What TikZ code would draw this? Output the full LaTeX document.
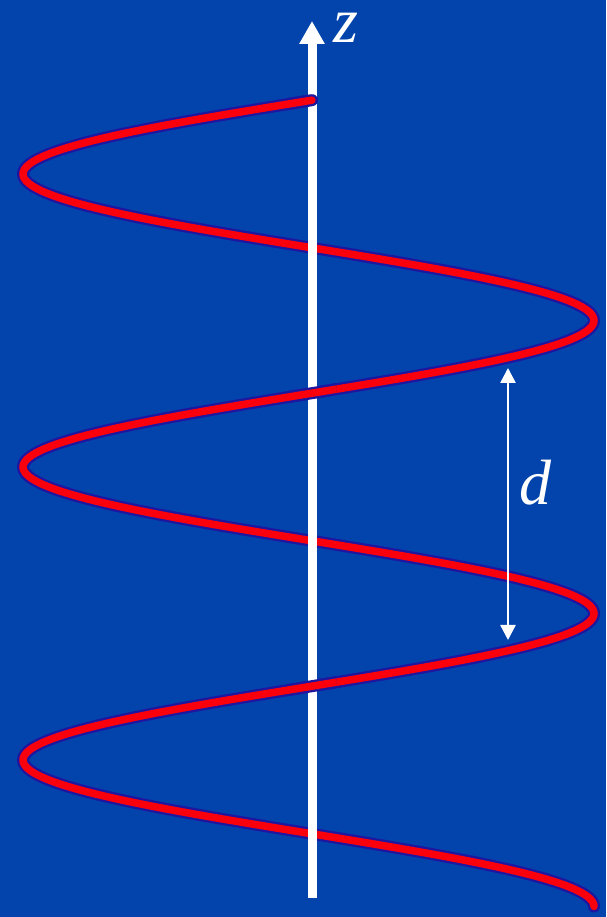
\documentclass[tikz,border=0pt]{standalone}
\usepackage{fontspec}
\setmainfont{Liberation Serif}
\usetikzlibrary{arrows.meta}
\definecolor{bgblue}{RGB}{2,68,172}
\definecolor{edgeblue}{RGB}{28,22,160}
\definecolor{helixred}{RGB}{250,0,12}
\begin{document}
\begin{tikzpicture}[x=1pt,y=1pt,
  helixedge/.style={draw=edgeblue, line width=12pt, line cap=round},
  helixcore/.style={draw=helixred, line width=7.5pt, line cap=round},
  axisline/.style={draw=white, line width=9pt, -{Triangle[width=24pt,length=23pt]}},
  dimline/.style={draw=white, line width=2.5pt, {Triangle[width=15pt,length=15pt]}-{Triangle[width=15pt,length=15pt]}},
  lbl/.style={text=white, font=\fontsize{64}{70}\selectfont\itshape, inner sep=0pt}]
\useasboundingbox (0,0) rectangle (606,917);
\fill[bgblue] (0,0) rectangle (606,917);
% full helix (back layer)
\draw[helixedge] plot[domain=-90.7:900, samples=400, smooth, variable=\t] ({308.5-285.5*cos(\t)},{743-0.81389*\t});
\draw[helixcore] plot[domain=-90.7:900, samples=400, smooth, variable=\t] ({308.5-285.5*cos(\t)},{743-0.81389*\t});
% axis
\coordinate (axisbot) at (312,19);
\coordinate (axistop) at (312,896);
\draw[axisline] (axisbot) -- (axistop);
% front parts of the helix crossing over the axis
\begin{scope}
\clip (288,0) rectangle (336,917);
\foreach \a/\b in {-90.7/0, 180/360, 540/720} {
  \draw[helixedge] plot[domain=\a:\b, samples=100, smooth, variable=\t] ({308.5-285.5*cos(\t)},{743-0.81389*\t});
  \draw[helixcore] plot[domain=\a:\b, samples=100, smooth, variable=\t] ({308.5-285.5*cos(\t)},{743-0.81389*\t});
}
\end{scope}
% pitch marker
\coordinate (dtop) at (508,549);
\coordinate (dbot) at (508,277);
\draw[dimline] (dtop) -- (dbot);
% labels
\node[lbl, anchor=base] (zlab) at (346,874) {z};
\node[lbl, anchor=base] (dlab) at (535,412) {d};
\end{tikzpicture}
\end{document}
